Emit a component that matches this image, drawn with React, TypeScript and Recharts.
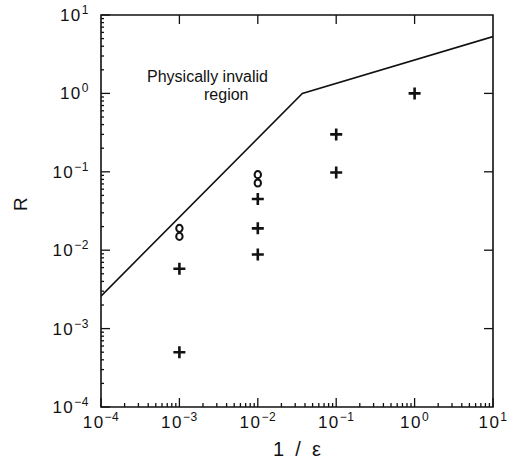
import React from 'react';
import { ScatterChart, Scatter, XAxis, YAxis, ReferenceArea } from 'recharts';

// decades on both axes (log-log plot)
const MAJOR_TICKS = [0.0001, 0.001, 0.01, 0.1, 1, 10];
const TICK_EXPONENTS = ['\u22124', '\u22123', '\u22122', '\u22121', '0', '1'];
const MINOR_STEPS = [2, 3, 4, 5, 6, 7, 8, 9];

// boundary of the physically invalid region
const BOUNDARY_X = [0.0001, 0.037, 10];
const BOUNDARY_R = [0.0026, 1.0, 5.3];

// "+" markers
const CROSS_X = [0.001, 0.001, 0.01, 0.01, 0.01, 0.1, 0.1, 1];
const CROSS_R = [0.0058, 0.0005, 0.045, 0.019, 0.0088, 0.3, 0.098, 1.0];

// "o" markers
const CIRCLE_X = [0.001, 0.001, 0.01, 0.01];
const CIRCLE_R = [0.019, 0.015, 0.092, 0.072];

const W = 518;
const H = 463;
const MARGIN = { top: 15, right: 25, left: 0, bottom: 0 };
const YAXIS_W = 101;
const XAXIS_H = 56;
const PLOT_W = W - MARGIN.left - MARGIN.right - YAXIS_W;
const PLOT_H = H - MARGIN.top - MARGIN.bottom - XAXIS_H;

const INK = '#111';
const FONT = '"Liberation Sans", Arial, Helvetica, sans-serif';

const allTicks = MAJOR_TICKS.flatMap((t, i) =>
  i === MAJOR_TICKS.length - 1 ? [t] : [t, ...MINOR_STEPS.map((m) => t * m)]
);

const zip = (xs: number[], ys: number[]) => xs.map((x, i) => ({ x, r: ys[i] }));
const boundary = zip(BOUNDARY_X, BOUNDARY_R);
const crosses = zip(CROSS_X, CROSS_R);
const circles = zip(CIRCLE_X, CIRCLE_R);

const majorIndex = (v: number) => {
  const l = Math.log10(v);
  return Math.abs(l - Math.round(l)) < 1e-6 ? MAJOR_TICKS.findIndex((t) => Math.abs(Math.log10(t) - l) < 1e-6) : -1;
};

function TickText({ x, y, anchor, exp }: { x: number; y: number; anchor: string; exp: string }) {
  return (
    <text x={x} y={y} textAnchor={anchor} fill={INK} fontFamily={FONT} fontSize={17} letterSpacing={1.5}>
      10
      <tspan dy={-7} fontSize={12} letterSpacing={0.5}>{exp}</tspan>
    </text>
  );
}

function XTick(props: any) {
  const { x, y, payload } = props;
  const idx = majorIndex(payload.value);
  const major = idx >= 0;
  return (
    <g>
      <line x1={x} x2={x} y1={y} y2={y - (major ? 9 : 4)} stroke={INK} strokeWidth={1.3} />
      {major && idx > 0 && idx < MAJOR_TICKS.length - 1 && (
        <line x1={x} x2={x} y1={y - PLOT_H} y2={y - PLOT_H + 9} stroke={INK} strokeWidth={1.3} />
      )}
      {major && <TickText x={x} y={y + 21} anchor="middle" exp={TICK_EXPONENTS[idx]} />}
    </g>
  );
}

function YTick(props: any) {
  const { x, y, payload } = props;
  const idx = majorIndex(payload.value);
  const major = idx >= 0;
  return (
    <g>
      <line x1={x} x2={x + (major ? 9 : 3)} y1={y} y2={y} stroke={INK} strokeWidth={1.3} />
      {major && idx > 0 && idx < MAJOR_TICKS.length - 1 && (
        <line x1={x + PLOT_W} x2={x + PLOT_W - 9} y1={y} y2={y} stroke={INK} strokeWidth={1.3} />
      )}
      {major && <TickText x={x - 12} y={y + 6} anchor="end" exp={TICK_EXPONENTS[idx]} />}
    </g>
  );
}

const Cross = (props: any) => {
  const { cx, cy } = props;
  return (
    <path
      d={`M${cx - 6},${cy}h12M${cx},${cy - 6}v12`}
      stroke={INK}
      strokeWidth={2.6}
      fill="none"
    />
  );
};

const Ring = (props: any) => {
  const { cx, cy } = props;
  return <ellipse cx={cx} cy={cy} rx={3.2} ry={3.6} stroke={INK} strokeWidth={2} fill="none" />;
};

export default function App() {
  return (
    <div style={{ position: 'absolute', left: 0, top: 0, width: W, height: H, background: '#fff' }}>
      <ScatterChart width={W} height={H} margin={MARGIN}>
        <XAxis
          dataKey="x"
          type="number"
          scale="log"
          domain={[0.0001, 10]}
          allowDataOverflow
          ticks={allTicks}
          interval={0}
          tickSize={0}
          tickMargin={0}
          tick={<XTick />}
          height={XAXIS_H}
          axisLine={false}
          label={{ value: '1\u00a0\u00a0/\u00a0\u00a0\u03b5', position: 'insideBottom', offset: 7, fill: INK, fontFamily: FONT, fontSize: 20 }}
        />
        <YAxis
          dataKey="r"
          type="number"
          scale="log"
          domain={[0.0001, 10]}
          allowDataOverflow
          ticks={allTicks}
          interval={0}
          tickSize={0}
          tickMargin={0}
          tick={<YTick />}
          width={YAXIS_W}
          axisLine={false}
          label={{ value: 'R', angle: -90, position: 'insideLeft', offset: 20, fill: INK, fontFamily: FONT, fontSize: 19 }}
        />
        <ReferenceArea x1={0.0001} x2={10} y1={0.0001} y2={10} fill="none" stroke={INK} strokeWidth={1.6} fillOpacity={0} />
        <Scatter
          data={boundary}
          line={{ stroke: INK, strokeWidth: 1.6 }}
          shape={() => <g />}
          isAnimationActive={false}
        />
        <Scatter data={crosses} shape={<Cross />} isAnimationActive={false} />
        <Scatter data={circles} shape={<Ring />} isAnimationActive={false} />
      </ScatterChart>
      <div style={{ position: 'absolute', left: 147, top: 67, fontFamily: FONT, fontSize: 16, color: INK, lineHeight: '19px', whiteSpace: 'nowrap' }}>
        Physically invalid
      </div>
      <div style={{ position: 'absolute', left: 204, top: 85, fontFamily: FONT, fontSize: 16, color: INK, lineHeight: '19px', whiteSpace: 'nowrap' }}>
        region
      </div>
    </div>
  );
}
